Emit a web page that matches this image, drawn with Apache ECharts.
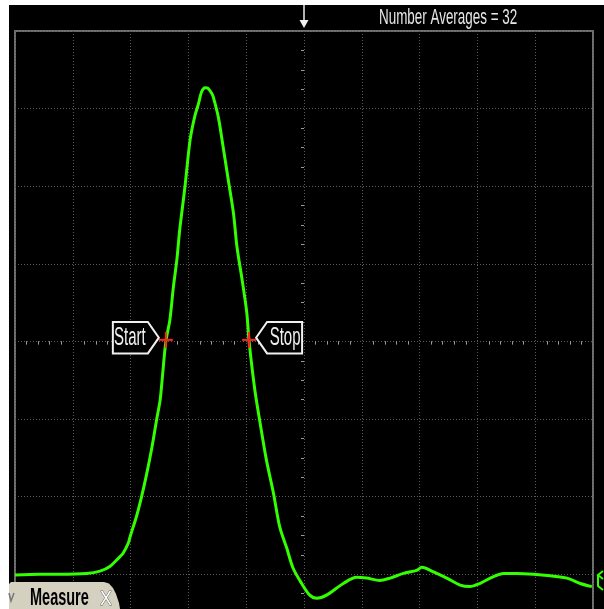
<!DOCTYPE html>
<html><head><meta charset="utf-8">
<script src="https://cdn.jsdelivr.net/npm/echarts@6/dist/echarts.min.js"></script>
<style>html,body{margin:0;padding:0;background:#fff}#c{width:604px;height:609px}</style>
</head><body><div id="c"></div>
<script>
// time in horizontal divisions, amplitude in vertical divisions
const timeDiv = [-5.00, -4.57, -4.22, -3.76, -3.53, -3.36, -3.18, -3.13, -3.04, -3.01, -2.90, -2.81, -2.72, -2.63, -2.55, -2.49, -2.46, -2.39, -2.32, -2.26, -2.20, -2.15, -2.06, -1.97, -1.89, -1.83, -1.77, -1.71, -1.66, -1.60, -1.57, -1.48, -1.40, -1.31, -1.22, -1.16, -1.07, -0.99, -0.95, -0.85, -0.76, -0.65, -0.53, -0.42, -0.30, -0.19, -0.04, 0.10, 0.22, 0.39, 0.68, 0.91, 1.08, 1.31, 1.49, 1.72, 1.95, 2.04, 2.24, 2.47, 2.70, 2.87, 3.04, 3.28, 3.45, 3.68, 3.97, 4.26, 4.55, 4.78, 4.98];
const voltDiv = [-3.01, -3.00, -3.00, -2.99, -2.96, -2.90, -2.77, -2.73, -2.60, -2.52, -2.26, -2.00, -1.70, -1.36, -1.01, -0.76, -0.54, 0.00, 0.28, 0.70, 1.05, 1.44, 1.99, 2.60, 2.90, 3.05, 3.22, 3.27, 3.26, 3.20, 3.15, 2.88, 2.51, 2.08, 1.65, 1.22, 0.79, 0.37, 0.00, -0.63, -1.05, -1.53, -1.95, -2.39, -2.66, -2.92, -3.12, -3.27, -3.31, -3.27, -3.12, -3.04, -3.05, -3.08, -3.05, -2.99, -2.95, -2.91, -2.97, -3.05, -3.14, -3.16, -3.12, -3.03, -2.99, -2.99, -3.00, -3.02, -3.05, -3.12, -3.16];
const cursorTimes = [-2.39, -0.95];
const cursorNames = ['Start', 'Stop'];
const titleText = 'Number Averages = 32';
const tabText = 'Measure';

const GREEN = '#33ff00';
const gridLine = {color: '#5a5a5a', width: 1, type: [1, 2]};
const minor = {color: '#9a9a9a', width: 1};

function hAxis(inside, split) {
  return {type: 'value', min: -5, max: 5, interval: 1,
    axisLine: {show: true, onZero: true, lineStyle: {opacity: 0}},
    axisTick: {show: false, inside: inside},
    axisLabel: {show: false},
    minorTick: {show: true, splitNumber: 5, length: 3, lineStyle: minor},
    splitLine: {show: split, lineStyle: gridLine}};
}
function vAxis(inside, split) {
  return {type: 'value', min: -4, max: 4, interval: 1,
    axisLine: {show: true, onZero: true, lineStyle: {opacity: 0}},
    axisTick: {show: false, inside: inside},
    axisLabel: {show: false},
    minorTick: {show: true, splitNumber: 4, length: 3, lineStyle: minor},
    splitLine: {show: split, lineStyle: gridLine}};
}

const chart = echarts.init(document.getElementById('c'), null, {renderer: 'canvas'});
const F = '"Liberation Sans", Arial, sans-serif';
chart.setOption({
  backgroundColor: '#000',
  animation: false,
  grid: {left: 15, top: 31, width: 578, height: 620.8, show: true, containLabel: false,
    outerBoundsMode: 'none',
    borderColor: '#707070', borderWidth: 2, backgroundColor: 'transparent'},
  xAxis: [hAxis(false, true), hAxis(true, false)],
  yAxis: [vAxis(false, true), vAxis(true, false)],
  series: [
    {type: 'line', xAxisIndex: 0, yAxisIndex: 0, showSymbol: false, smooth: 0.3,
      data: timeDiv.map((t, i) => [t, voltDiv[i]]),
      lineStyle: {color: GREEN, width: 3}, z: 3},
    {type: 'custom', xAxisIndex: 0, yAxisIndex: 0, z: 5,
      data: cursorTimes.map((t, i) => [t, 0, i]),
      renderItem: function (params, api) {
        const i = api.value(2);
        const p = api.coord([api.value(0), api.value(1)]);
        const s = i === 0 ? -1 : 1;
        const top = p[1] - 19.5, bot = p[1] + 12, mid = (top + bot) / 2;
        const tipX = p[0] + s * 7, inX = p[0] + s * 18, outX = p[0] + s * 53;
        const cy = p[1] - 1.5;
        return {type: 'group', children: [
          {type: 'polygon', shape: {points: [[outX, top], [inX, top], [tipX, mid], [inX, bot], [outX, bot]]},
            style: {fill: '#000', stroke: '#f0f0f0', lineWidth: 2}},
          {type: 'text', x: p[0] + s * 36, y: mid + 0.5, scaleX: 0.6,
            style: {text: cursorNames[i], fill: '#f0f0f0', font: '25px ' + F,
              align: 'center', verticalAlign: 'middle', textAlign: 'center', textVerticalAlign: 'middle'}},
          {type: 'rect', shape: {x: p[0] - 7, y: cy - 1, width: 14, height: 2}, style: {fill: '#ff2020'}},
          {type: 'rect', shape: {x: p[0] - 1, y: cy - 8, width: 2, height: 16}, style: {fill: '#ff2020'}}
        ]};
      }}
  ],
  graphic: [
    {type: 'rect', z: 100, shape: {x: 0, y: 0, width: 9, height: 609}, style: {fill: '#fff'}},
    {type: 'rect', z: 100, shape: {x: 0, y: 0, width: 604, height: 5}, style: {fill: '#fff'}},
    {type: 'text', z: 100, x: 379, y: 18, scaleX: 0.61,
      style: {text: titleText, fill: '#e6e6e6', font: '22px ' + F,
        align: 'left', verticalAlign: 'middle', textAlign: 'left', textVerticalAlign: 'middle'}},
    {type: 'line', z: 100, shape: {x1: 304, y1: 5, x2: 304, y2: 22}, style: {stroke: '#f0f0f0', lineWidth: 1.5}},
    {type: 'polygon', z: 100, shape: {points: [[299.5, 20], [308.5, 20], [304, 28]]}, style: {fill: '#f0f0f0'}},
    {type: 'polygon', z: 100, shape: {points: [[9, 609], [9, 584], [11, 582], [104, 582], [109, 583.5], [113, 588], [116, 594], [119, 603], [120, 609]]},
      style: {fill: '#d4d1c1'}},
    {type: 'polyline', z: 101, shape: {points: [[9, 593], [11, 601], [14, 593]]}, style: {stroke: '#777', lineWidth: 1.5, fill: null}},
    {type: 'text', z: 101, x: 30, y: 599, scaleX: 0.63,
      style: {text: tabText, fill: '#000', font: 'bold 23px ' + F,
        align: 'left', verticalAlign: 'middle', textAlign: 'left', textVerticalAlign: 'middle'}},
    {type: 'text', z: 101, x: 106, y: 599, scaleX: 0.85,
      style: {text: 'X', fill: '#fff', stroke: '#555', lineWidth: 1, font: '21px ' + F,
        align: 'center', verticalAlign: 'middle', textAlign: 'center', textVerticalAlign: 'middle'}},
    {type: 'polyline', z: 101, shape: {points: [[603, 571], [598, 575], [603, 579]]}, style: {stroke: GREEN, lineWidth: 2, fill: null}},
    {type: 'polyline', z: 101, shape: {points: [[598, 575], [598, 586], [603, 590]]}, style: {stroke: GREEN, lineWidth: 2, fill: null}}
  ]
});
</script></body></html>
